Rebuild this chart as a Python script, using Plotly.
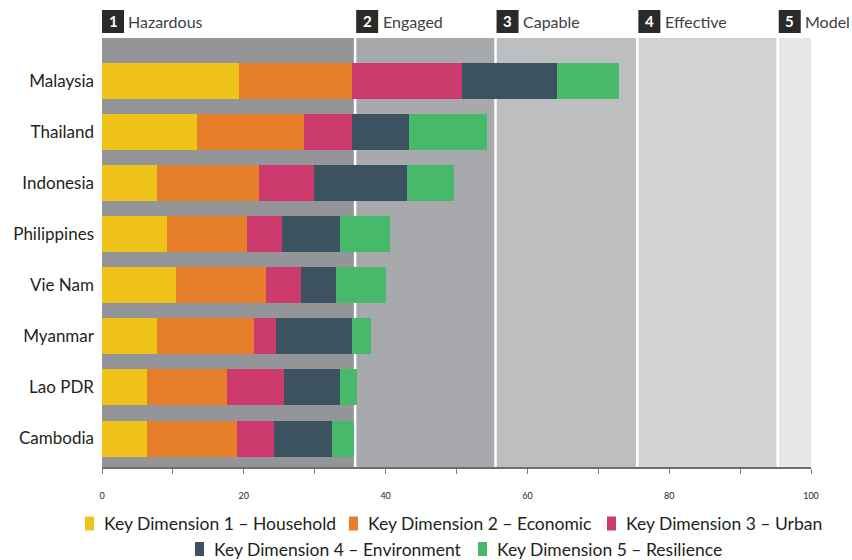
import plotly.graph_objects as go

countries = ["Malaysia", "Thailand", "Indonesia", "Philippines", "Vie Nam", "Myanmar", "Lao PDR", "Cambodia"]
household = [19.3, 13.4, 7.7, 9.1, 10.5, 7.7, 6.3, 6.3]
economic = [15.9, 15.1, 14.4, 11.3, 12.7, 13.7, 11.3, 12.7]
urban = [15.6, 6.8, 7.8, 5.0, 4.9, 3.2, 8.1, 5.3]
environment = [13.4, 8.0, 13.1, 8.1, 4.9, 10.6, 7.8, 8.1]
resilience = [8.7, 11.0, 6.7, 7.1, 7.1, 2.8, 2.5, 3.1]

series_names = ["Key Dimension 1 – Household", "Key Dimension 2 – Economic", "Key Dimension 3 – Urban",
                "Key Dimension 4 – Environment", "Key Dimension 5 – Resilience"]
series_values = [household, economic, urban, environment, resilience]
series_colors = ["#efc319", "#e67e2a", "#cc3a6e", "#3d5260", "#46b96b"]

stage_numbers = ["1", "2", "3", "4", "5"]
stage_labels = ["Hazardous", "Engaged", "Capable", "Effective", "Model"]
stage_bounds = [0, 35.7, 55.5, 75.5, 95.3, 100]
stage_colors = ["#939598", "#a7a9ac", "#bcbec0", "#d1d3d4", "#e6e7e8"]

tick_vals = list(range(0, 101, 10))
tick_text = [str(v) if v % 20 == 0 else "" for v in tick_vals]

FONT = "Lato"
W, H = 852, 560
ML, MR, MT, MB = 102, 41, 38, 93
PW = W - ML - MR
PH = H - MT - MB


def px_to_paper_x(px):
    return (px - ML) / PW


def px_to_paper_y(py):
    return (H - MB - py) / PH


fig = go.Figure()
for name, vals, col in zip(series_names, series_values, series_colors):
    fig.add_trace(go.Bar(
        y=countries, x=vals, name=name, orientation="h",
        marker=dict(color=col, line=dict(width=0)),
        showlegend=False,
    ))

shapes = []
annotations = []
# background stage bands
for i in range(5):
    shapes.append(dict(type="rect", xref="x", yref="paper", x0=stage_bounds[i], x1=stage_bounds[i + 1],
                       y0=0, y1=1, fillcolor=stage_colors[i], line=dict(width=0), layer="below"))
for b in stage_bounds[1:-1]:
    shapes.append(dict(type="line", xref="x", yref="paper", x0=b, x1=b, y0=0, y1=1,
                       line=dict(color="white", width=2.5), layer="below"))

# stage headers
box_w = 22 / PW * 100
for i in range(5):
    x0 = stage_bounds[i] + (0.15 if i > 0 else 0)
    shapes.append(dict(type="rect", xref="x", yref="paper", x0=x0, x1=x0 + box_w,
                       y0=px_to_paper_y(33), y1=px_to_paper_y(10),
                       fillcolor="#2b2a2b", line=dict(width=0)))
    annotations.append(dict(xref="x", yref="paper", x=x0 + box_w / 2, y=px_to_paper_y(21.5),
                            text="<b>" + stage_numbers[i] + "</b>", showarrow=False,
                            xanchor="center", yanchor="middle",
                            font=dict(family=FONT, size=15, color="white")))
    annotations.append(dict(xref="x", yref="paper", x=x0 + box_w + 0.35, y=px_to_paper_y(21.5),
                            text=stage_labels[i], showarrow=False,
                            xanchor="left", yanchor="middle",
                            font=dict(family=FONT, size=16, color="#414042")))

# manual legend
legend_pos = [(85, 523.5), (349, 523.5), (607, 523.5), (195, 549), (478, 549)]
for (lx, ly), name, col in zip(legend_pos, series_names, series_colors):
    shapes.append(dict(type="rect", xref="paper", yref="paper",
                       x0=px_to_paper_x(lx), x1=px_to_paper_x(lx + 9),
                       y0=px_to_paper_y(ly + 7), y1=px_to_paper_y(ly - 7),
                       fillcolor=col, line=dict(width=0)))
    annotations.append(dict(xref="paper", yref="paper", x=px_to_paper_x(lx + 17), y=px_to_paper_y(ly),
                            text=name, showarrow=False, xanchor="left", yanchor="middle",
                            font=dict(family=FONT, size=17.5, color="#231f20")))

fig.update_layout(
    width=W, height=H,
    margin=dict(l=ML, r=MR, t=MT, b=MB, pad=0),
    barmode="stack", bargap=0.295,
    plot_bgcolor="white", paper_bgcolor="white",
    shapes=shapes, annotations=annotations,
    xaxis=dict(range=[0, 100], tickvals=tick_vals, ticktext=tick_text,
               showgrid=False, zeroline=False, showline=True, linecolor="#6d6e71", linewidth=2,
               ticks="outside", ticklen=5, tickcolor="#808285", tickwidth=1,
               ticklabelstandoff=14,
               tickfont=dict(family=FONT, size=9, color="#231f20"), fixedrange=True),
    yaxis=dict(type="category", categoryorder="array", categoryarray=countries,
               range=[7.558, -0.842], showgrid=False, zeroline=False, showline=False,
               ticks="", ticklabelstandoff=7,
               tickfont=dict(family=FONT, size=17, color="#231f20"), fixedrange=True),
)

fig.write_html("out.html")
